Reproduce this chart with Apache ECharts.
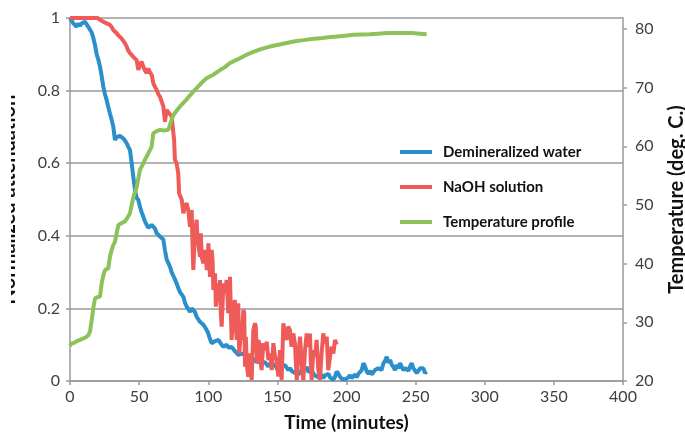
<!DOCTYPE html>
<html><head><meta charset="utf-8">
<script src="https://cdn.jsdelivr.net/npm/echarts@6/dist/echarts.min.js"></script>
<style>html,body{margin:0;padding:0;background:#fff}#c{width:685px;height:434px}</style>
</head><body><div id="c"></div>
<script>
// ---- data (time in minutes, value) ----
const seriesNames = ['Demineralized water', 'NaOH solution', 'Temperature profile'];
const tempTicks = [20, 30, 40, 50, 60, 70, 80];

const water = [
[0,1.0],[1.2,0.995],[2.4,0.985],[3.6,0.99],[4.8,0.976],[6,0.985],[7.2,0.978],[8.4,0.985],[9.6,0.981],[10.8,0.99],[12.1,0.985],[13.3,0.975],[14.5,0.972],[15.7,0.96],[16.9,0.945],[18.1,0.925],[19.3,0.9],[20.5,0.885],[21.7,0.866],[22.9,0.84],[24.1,0.811],[25.3,0.79],[26.5,0.774],[27.7,0.755],[28.9,0.737],[30.1,0.72],[31.3,0.701],[32.5,0.664],[33.7,0.672],[34.9,0.669],[36.1,0.675],[37.4,0.673],[38.6,0.668],[39.8,0.662],[41.0,0.655],[42.2,0.645],[43.4,0.636],[44.6,0.6],[45.8,0.563],[47.0,0.526],[48.2,0.505],[49.4,0.499],[50.6,0.48],[51.8,0.465],[53.0,0.453],[54.2,0.44],[55.5,0.43],[56.7,0.422],[57.9,0.425],[59.1,0.43],[60.3,0.434],[61.5,0.42],[62.7,0.407],[63.9,0.41],[65.1,0.398],[66.3,0.4],[67.5,0.39],[68.7,0.36],[69.9,0.335],[71.1,0.325],[72.3,0.315],[73.5,0.3],[74.7,0.29],[75.9,0.28],[77.2,0.268],[78.4,0.255],[79.6,0.245],[80.8,0.24],[82.0,0.232],[83.2,0.215],[84.4,0.205],[85.6,0.198],[86.8,0.19],[88.0,0.2],[89.2,0.205],[90.4,0.19],[91.6,0.177],[92.8,0.172],[94.0,0.163],[95.3,0.165],[96.5,0.155],[97.7,0.148],[98.9,0.14],[100.1,0.13],[101.3,0.115],[102.5,0.104],[103.7,0.102],[104.9,0.11],[106.1,0.115],[107.3,0.113],[108.5,0.108],[109.7,0.1],[110.9,0.094],[112.1,0.098],[113.3,0.1],[114.5,0.092],[115.7,0.09],[116.9,0.094],[118.1,0.088],[119.3,0.082],[120.6,0.078],[121.8,0.072],[123.0,0.067],[124.2,0.075],[125.4,0.07],[126.6,0.074],[127.8,0.066],[129.0,0.06],[130.2,0.058],[131.4,0.066],[132.6,0.062],[133.8,0.055],[135.0,0.06],[136.2,0.052],[137.4,0.058],[138.6,0.05],[139.8,0.045],[141.0,0.052],[142.2,0.05],[143.4,0.04],[144.7,0.048],[145.9,0.042],[147.0,0.04],[148.3,0.046],[149.5,0.035],[150.7,0.028],[151.9,0.03],[153.1,0.04],[154.3,0.036],[155.5,0.044],[156.7,0.039],[157.9,0.03],[159.1,0.036],[160.3,0.028],[161.5,0.03],[162.7,0.022],[164.0,0.03],[165.2,0.018],[166.4,0.021],[167.6,0.03],[168.8,0.038],[170.0,0.03],[171.2,0.039],[172.4,0.025],[173.6,0.02],[174.8,0.028],[176.0,0.021],[177.2,0.015],[178.4,0.02],[179.6,0.01],[180.8,0.012],[182.0,0.018],[183.2,0.008],[184.4,0.015],[185.7,0.012],[186.9,0.02],[188.1,0.01],[189.3,0.005],[190.5,0.003],[191.7,0.012],[192.9,0.026],[194.1,0.02],[195.3,0.012],[196.5,0.006],[197.7,0.01],[198.9,0.004],[200.1,0.003],[201.3,0.01],[202.5,0.016],[203.7,0.008],[205.0,0.012],[206.2,0.018],[207.4,0.01],[208.6,0.02],[209.8,0.021],[211.0,0.03],[212.2,0.049],[213.4,0.04],[214.6,0.026],[215.8,0.02],[217.0,0.028],[218.2,0.018],[219.4,0.021],[220.6,0.03],[221.8,0.026],[223.0,0.035],[224.2,0.039],[225.4,0.03],[226.7,0.049],[227.9,0.055],[229.1,0.067],[230.3,0.05],[231.5,0.058],[232.7,0.045],[233.9,0.039],[235.1,0.03],[236.3,0.044],[237.5,0.035],[238.7,0.049],[239.9,0.04],[241.1,0.03],[242.4,0.036],[243.6,0.039],[244.8,0.028],[246.0,0.04],[247.2,0.049],[248.4,0.035],[249.6,0.03],[250.8,0.022],[252.0,0.028],[253.2,0.035],[254.4,0.03],[255.6,0.035],[256.8,0.022],[258.0,0.026]
];

const naoh = [
[0,1.0],[5,1.0],[10,1.0],[15,1.0],[20,1.0],[21.7,0.995],[22.9,0.99],[24.1,0.99],[25.3,0.985],[26.5,0.985],[27.7,0.983],[28.9,0.981],[30.1,0.975],[31.3,0.967],[32.5,0.962],[33.8,0.958],[35.0,0.952],[36.2,0.948],[37.4,0.943],[38.6,0.939],[39.8,0.93],[41.0,0.921],[42.2,0.91],[43.4,0.903],[44.6,0.898],[45.8,0.893],[47.0,0.888],[48.2,0.884],[49.4,0.857],[50.6,0.87],[51.8,0.88],[53.0,0.866],[54.2,0.855],[55.5,0.848],[56.6,0.861],[57.9,0.85],[59.1,0.843],[60.3,0.82],[61.5,0.81],[62.7,0.802],[63.9,0.79],[65.1,0.783],[66.3,0.77],[67.5,0.756],[68.7,0.714],[69.9,0.747],[71.1,0.74],[72.3,0.737],[73.5,0.73],[74.7,0.728],[75.3,0.664],[75.9,0.609],[77.1,0.6],[78.3,0.572],[78.9,0.517],[80.8,0.499],[82.0,0.462],[83.2,0.48],[84.4,0.49],[85.6,0.47],[86.8,0.425],[87.4,0.453],[88.0,0.471],[88.6,0.38],[89.2,0.306],[89.8,0.36],[90.4,0.407],[91.6,0.444],[92.2,0.388],[92.8,0.379],[94.0,0.342],[94.6,0.407],[95.3,0.342],[96.4,0.324],[97.6,0.361],[98.3,0.352],[98.9,0.306],[99.5,0.315],[100.1,0.379],[101.3,0.287],[102.5,0.361],[103.1,0.333],[103.7,0.251],[104.9,0.297],[105.5,0.205],[107.3,0.269],[107.9,0.223],[108.5,0.278],[109.1,0.187],[109.7,0.15],[110.3,0.205],[110.9,0.269],[112.1,0.242],[113.3,0.278],[114.5,0.187],[115.1,0.196],[115.7,0.287],[116.9,0.113],[117.5,0.15],[118.1,0.187],[119.3,0.223],[120.0,0.15],[120.6,0.113],[121.7,0.214],[122.4,0.076],[123.0,0.104],[123.6,0.14],[124.2,0.113],[125.4,0.196],[126.0,0.187],[126.6,0.039],[127.2,0.122],[127.8,0.049],[129.0,0.012],[129.6,0.076],[130.2,0.039],[131.4,0.003],[132.0,0.067],[132.6,0.14],[133.8,0.159],[134.4,0.15],[135.0,0.085],[135.6,0.049],[136.2,0.113],[136.8,0.104],[137.4,0.067],[138.6,0.03],[139.8,0.104],[141.0,0.085],[142.3,0.108],[143.5,0.058],[144.7,0.076],[145.9,0.03],[147.1,0.104],[148.3,0.067],[149.5,0.058],[150.7,0.012],[151.9,0.085],[152.5,0.03],[153.1,0.003],[154.3,0.159],[155.5,0.131],[156.7,0.113],[157.9,0.15],[159.1,0.14],[160.3,0.094],[161.5,0.131],[162.7,0.104],[163.4,0.05],[164.0,0.003],[165.1,0.067],[166.4,0.122],[167.6,0.049],[168.2,0.02],[168.8,0.003],[170.0,0.085],[171.2,0.131],[172.4,0.094],[173.6,0.131],[174.2,0.05],[174.8,0.003],[176.0,0.085],[177.2,0.067],[178.4,0.113],[179.6,0.03],[180.8,0.003],[182.0,0.076],[183.2,0.131],[184.4,0.104],[185.7,0.122],[186.8,0.03],[188.1,0.067],[189.3,0.095],[190.5,0.076],[191.7,0.113],[192.9,0.1]
];

const temperature = [
[0,26.0],[1.2,26.4],[3,26.5],[5,26.8],[7.2,27.0],[9,27.2],[11,27.4],[13.3,27.8],[14.5,28.5],[15.7,30.4],[16.9,32.5],[18.1,34.1],[19.9,34.3],[21.7,34.4],[22.9,36.6],[24.1,38.0],[25.3,38.9],[26.5,39.1],[27.7,39.2],[28.9,41.2],[30.1,42.3],[31.3,43.2],[32.5,43.7],[33.8,44.0],[35.0,46.6],[36.2,46.9],[38.0,47.0],[39.8,47.2],[41.5,47.8],[43.4,48.6],[44.6,50.0],[45.8,51.3],[47.0,52.2],[48.2,53.0],[50.6,56.0],[52.4,56.8],[54.2,57.7],[56.6,58.8],[59.0,59.9],[60.2,62.2],[62.7,62.6],[65.1,62.8],[68.1,62.7],[71.1,62.8],[73.5,64.5],[74.7,65.3],[77.2,66.1],[79.6,66.8],[82.0,67.4],[84.4,68.0],[86.8,68.7],[89.2,69.3],[91.6,69.9],[94.0,70.5],[96.4,71.1],[98.8,71.6],[101.2,71.9],[103.7,72.2],[106.1,72.6],[108.5,73.0],[112.1,73.5],[115.7,74.2],[119.3,74.6],[122.9,75.0],[127.7,75.6],[132.6,76.1],[138.6,76.6],[144.7,77.0],[150.7,77.3],[156.7,77.6],[162.7,77.9],[168.8,78.1],[174.8,78.3],[180.8,78.4],[186.8,78.6],[192.9,78.7],[198.9,78.85],[204.9,79.0],[211.0,79.05],[217.0,79.1],[223.0,79.2],[229.1,79.3],[235.1,79.3],[241.1,79.3],[247.2,79.3],[253.2,79.2],[258.0,79.1]
];

const colors = ['#2A8FCB', '#EE5B58', '#8DC15A'];
const axisGray = '#9a9a9a';
const FONT = 'Lato';

const chart = echarts.init(document.getElementById('c'), null, {renderer: 'canvas'});
chart.setOption({
  animation: false,
  backgroundColor: '#fff',
  textStyle: {fontFamily: FONT},
  grid: {left: 70, right: 62, top: 18, bottom: 53, containLabel: false, outerBoundsMode: 'none'},
  legend: {
    orient: 'vertical', left: 395, top: 139, itemGap: 19,
    itemWidth: 32, itemHeight: 4, icon: 'rect',
    data: seriesNames,
    textStyle: {fontFamily: FONT, fontSize: 15, fontWeight: 'bold', color: '#111', lineHeight: 16, padding: [0, 0, 0, 6]}
  },
  xAxis: {
    type: 'value', min: 0, max: 400, interval: 50,
    name: 'Time (minutes)', nameLocation: 'middle', nameGap: 32,
    nameTextStyle: {fontFamily: FONT, fontSize: 19, fontWeight: 'bold', color: '#111'},
    axisLine: {lineStyle: {color: axisGray, width: 1.5}},
    axisTick: {show: true, length: 4, lineStyle: {color: axisGray, width: 1.5}},
    axisLabel: {fontFamily: FONT, fontSize: 16, color: '#404040', margin: 8},
    splitLine: {show: false}
  },
  yAxis: [{
    type: 'value', min: 0, max: 1, interval: 0.2,
    name: 'Normalized attenuation', nameLocation: 'middle', nameGap: 51, nameRotate: 90,
    nameTextStyle: {fontFamily: FONT, fontSize: 20, fontWeight: 'bold', color: '#111'},
    axisLine: {show: true, lineStyle: {color: axisGray, width: 1.5}},
    axisTick: {show: true, length: 4, lineStyle: {color: axisGray, width: 1.5}},
    axisLabel: {fontFamily: FONT, fontSize: 16, color: '#404040', margin: 10,
      formatter: v => String(Math.round(v * 10) / 10)},
    splitLine: {show: true, lineStyle: {color: axisGray, width: 1.5}}
  }, {
    type: 'value', min: 20, max: 81.87, interval: 10, position: 'right',
    name: 'Temperature (deg. C.)', nameLocation: 'middle', nameGap: 44, nameRotate: 90,
    nameTextStyle: {fontFamily: FONT, fontSize: 20, fontWeight: 'bold', color: '#111'},
    axisLine: {show: true, lineStyle: {color: axisGray, width: 1.5}},
    axisTick: {show: true, length: 4, lineStyle: {color: axisGray, width: 1.5}, customValues: tempTicks},
    axisLabel: {fontFamily: FONT, fontSize: 16, color: '#404040', margin: 12, customValues: tempTicks},
    splitLine: {show: false}
  }],
  series: [
    {name: seriesNames[0], type: 'line', data: water, yAxisIndex: 0, showSymbol: false, symbol: 'none',
     lineStyle: {color: colors[0], width: 4}, itemStyle: {color: colors[0]}, z: 2},
    {name: seriesNames[1], type: 'line', data: naoh, yAxisIndex: 0, showSymbol: false, symbol: 'none',
     lineStyle: {color: colors[1], width: 4}, itemStyle: {color: colors[1]}, z: 3},
    {name: seriesNames[2], type: 'line', data: temperature, yAxisIndex: 1, showSymbol: false, symbol: 'none',
     lineStyle: {color: colors[2], width: 4}, itemStyle: {color: colors[2]}, z: 4}
  ],
  graphic: [{type: 'rect', left: 0, top: 0, shape: {width: 11, height: 434}, style: {fill: '#fff'}, z: 100}]
});
</script></body></html>
